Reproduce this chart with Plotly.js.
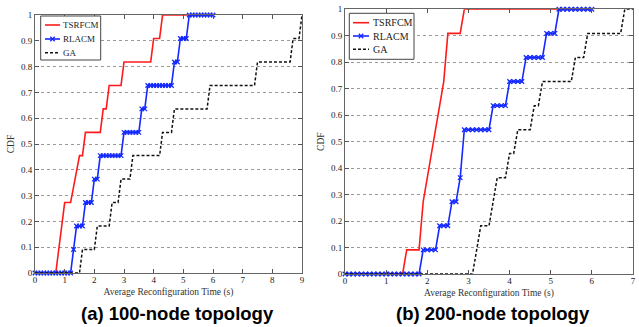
<!DOCTYPE html>
<html>
<head>
<meta charset="utf-8">
<script src="https://cdn.plot.ly/plotly-3.0.1.min.js"></script>
<style>
  html, body { margin: 0; padding: 0; background: #ffffff; }
  #chart { width: 639px; height: 327px; }
</style>
</head>
<body>
<div id="chart"></div>
<script>
// ---------- data ----------
const seriesNames = ["TSRFCM", "RLACM", "GA"];
const panelTitles = ["(a) 100-node topology", "(b) 200-node topology"];
const xAxisTitle = "Average Reconfiguration Time (s)";
const yAxisTitle = "CDF";

// (a) 100-node topology
const a_tsrfcmX = [0, 0.7, 0.9, 1.0, 1.2, 1.5, 1.6, 1.7, 2.2, 2.3, 2.4, 2.5, 2.9, 3.0, 3.9, 4.0, 4.2, 4.3, 6.0];
const a_tsrfcmY = [0, 0, 0.182, 0.273, 0.273, 0.455, 0.455, 0.545, 0.545, 0.636, 0.636, 0.727, 0.727, 0.818, 0.818, 0.909, 0.909, 1, 1];

const rlacmX = [0,0.1,0.2,0.3,0.4,0.5,0.6,0.7,0.8,0.9,1.0,1.1,1.2,1.3,1.4,1.5,1.6,1.7,1.8,1.9,2.0,2.1,2.2,2.3,2.4,2.5,2.6,2.7,2.8,2.9,3.0,3.1,3.2,3.3,3.4,3.5,3.6,3.7,3.8,3.9,4.0,4.1,4.2,4.3,4.4,4.5,4.6,4.7,4.8,4.9,5.0,5.1,5.2,5.3,5.4,5.5,5.6,5.7,5.8,5.9,6.0];
const a_rlacmY = [0,0,0,0,0,0,0,0,0,0,0,0,0,
  0.091,
  0.182,0.182,0.182,
  0.273,0.273,0.273,
  0.364,0.364,
  0.455,0.455,0.455,0.455,0.455,0.455,0.455,0.455,
  0.545,0.545,0.545,0.545,0.545,0.545,
  0.636,0.636,
  0.727,0.727,0.727,0.727,0.727,0.727,0.727,0.727,0.727,
  0.818,0.818,
  0.909,0.909,0.909,
  1,1,1,1,1,1,1,1,1];

const a_gaX = [0, 1.5, 1.6, 2.0, 2.1, 2.5, 2.6, 2.8, 2.9, 3.2, 3.3, 4.2, 4.3, 4.6, 4.7, 5.8, 5.9, 7.4, 7.5, 8.6, 8.7, 8.9, 9.0];
const a_gaY = [0, 0, 0.091, 0.091, 0.182, 0.182, 0.273, 0.273, 0.364, 0.364, 0.455, 0.455, 0.545, 0.545, 0.636, 0.636, 0.727, 0.727, 0.818, 0.818, 0.909, 0.909, 1];

// (b) 200-node topology
const b_tsrfcmX = [0, 1.4, 1.5, 1.8, 1.9, 2.0, 2.1, 2.2, 2.3, 2.4, 2.5, 2.8, 2.9, 6.0];
const b_tsrfcmY = [0, 0, 0.091, 0.091, 0.273, 0.364, 0.455, 0.545, 0.636, 0.727, 0.909, 0.909, 1, 1];

const b_rlacmY = [0,0,0,0,0,0,0,0,0,0,0,0,0,0,0,0,0,0,0,
  0.091,0.091,0.091,0.091,
  0.182,0.182,0.182,
  0.273,0.273,
  0.364,
  0.545,0.545,0.545,0.545,0.545,0.545,0.545,
  0.636,0.636,0.636,0.636,
  0.727,0.727,0.727,0.727,
  0.818,0.818,0.818,0.818,0.818,
  0.909,0.909,0.909,
  1,1,1,1,1,1,1,1,1];

const b_gaX = [0, 3.1, 3.3, 3.5, 3.7, 3.9, 4.0, 4.1, 4.2, 4.5, 4.6, 4.7, 4.8, 5.5, 5.6, 5.8, 5.9, 6.7, 6.8, 7.0];
const b_gaY = [0, 0, 0.182, 0.182, 0.364, 0.364, 0.455, 0.455, 0.545, 0.545, 0.636, 0.636, 0.727, 0.727, 0.818, 0.818, 0.909, 0.909, 1, 1];

const xTicksA = [0,1,2,3,4,5,6,7,8,9];
const xTicksB = [0,1,2,3,4,5,6,7];
const yTicks = [0,0.1,0.2,0.3,0.4,0.5,0.6,0.7,0.8,0.9,1];

// ---------- styles ----------
const RED = "#ff1a1a", BLUE = "#1428ff", BLACK = "#111111";
const COLORS = [RED, BLUE, BLACK];
const DASHES = ["solid", "solid", "3px,2px"];
const SERIF = "Liberation Serif, Times New Roman, serif";

function traces(tx, ty, ry, gx, gy, xa, ya) {
  return [
    { x: tx, y: ty, xaxis: xa, yaxis: ya, name: seriesNames[0], mode: "lines", showlegend: false,
      line: { color: COLORS[0], width: 1.6 } },
    { x: rlacmX, y: ry, xaxis: xa, yaxis: ya, name: seriesNames[1], mode: "lines+markers", showlegend: false,
      cliponaxis: false,
      line: { color: COLORS[1], width: 1.6 },
      marker: { symbol: "x-thin", size: 4.5, color: COLORS[1], line: { color: COLORS[1], width: 1.3 } } },
    { x: gx, y: gy, xaxis: xa, yaxis: ya, name: seriesNames[2], mode: "lines", showlegend: false,
      line: { color: COLORS[2], width: 1.5, dash: DASHES[2] } }
  ];
}

const data = [].concat(
  traces(a_tsrfcmX, a_tsrfcmY, a_rlacmY, a_gaX, a_gaY, "x", "y"),
  traces(b_tsrfcmX, b_tsrfcmY, b_rlacmY, b_gaX, b_gaY, "x2", "y2")
);

const W = 639, H = 327;
const px = v => v / W;           // pixel -> paper x
const py = v => 1 - v / H;       // pixel -> paper y

function axisX(domain, range, ticks, anchor) {
  return {
    anchor: anchor,
    domain: domain, range: range, tickvals: ticks, ticks: "inside", ticklen: 4,
    tickcolor: "#555", showline: true, linecolor: "#666", linewidth: 1, mirror: "ticks",
    showgrid: false, zeroline: false, automargin: false, ticklabelstandoff: -2,
    tickfont: { family: SERIF, size: 9, color: "#222" },
    title: { text: xAxisTitle, font: { family: SERIF, size: 9.5, color: "#333" }, standoff: 4 }
  };
}
function axisY(domain, anchor) {
  return {
    anchor: anchor,
    domain: domain, range: [0, 1], tickvals: yTicks, ticks: "inside", ticklen: 4,
    tickcolor: "#555", showline: true, linecolor: "#666", linewidth: 1, mirror: "ticks",
    showgrid: true, gridcolor: "#9a9a9a", griddash: "dot", gridwidth: 1,
    zeroline: false, automargin: false,
    tickfont: { family: SERIF, size: 9, color: "#222" },
    title: { text: yAxisTitle, font: { family: SERIF, size: 9.5, color: "#333" }, standoff: 4 }
  };
}

// ---------- compact MATLAB-style legends (box, samples, labels) ----------
const shapes = [];
const annotations = [];
function addLegend(box, sx0, sx1, tx, rows, fsize) {
  shapes.push({ type: "rect", xref: "paper", yref: "paper", layer: "above",
    x0: px(box[0]), x1: px(box[2]), y0: py(box[3]), y1: py(box[1]),
    fillcolor: "#ffffff", line: { color: "#444", width: 1 } });
  rows.forEach((ry, i) => {
    shapes.push({ type: "line", xref: "paper", yref: "paper", layer: "above",
      x0: px(sx0), x1: px(sx1), y0: py(ry), y1: py(ry),
      line: { color: COLORS[i], width: 1.6, dash: i === 2 ? "3px,2px" : "solid" } });
    if (i === 1) {
      const cx = (sx0 + sx1) / 2, d = 2.2;
      shapes.push({ type: "path", xref: "paper", yref: "paper", layer: "above",
        path: "M" + px(cx - d) + "," + py(ry - d) + " L" + px(cx + d) + "," + py(ry + d) +
              " M" + px(cx - d) + "," + py(ry + d) + " L" + px(cx + d) + "," + py(ry - d),
        line: { color: COLORS[1], width: 1.3 } });
    }
    annotations.push({ text: seriesNames[i], xref: "paper", yref: "paper",
      x: px(tx), y: py(ry), xanchor: "left", yanchor: "middle", showarrow: false,
      font: { family: SERIF, size: fsize, color: "#222" } });
  });
}
addLegend([40.7, 16, 100.7, 60], 45, 60, 61, [25, 39, 52.7], 9);
addLegend([349.3, 13.3, 414, 59.3], 353, 369, 371, [22.7, 36, 49.3], 10);

annotations.push(
  { text: "<b>" + panelTitles[0] + "</b>", xref: "paper", yref: "paper",
    x: px(177), y: py(313), xanchor: "center", yanchor: "middle", showarrow: false,
    font: { family: "Liberation Sans, Arial, sans-serif", size: 18.5, color: "#000" } },
  { text: "<b>" + panelTitles[1] + "</b>", xref: "paper", yref: "paper",
    x: px(493), y: py(313), xanchor: "center", yanchor: "middle", showarrow: false,
    font: { family: "Liberation Sans, Arial, sans-serif", size: 18.5, color: "#000" } }
);

const layout = {
  width: W, height: H,
  margin: { l: 0, r: 0, t: 0, b: 0 },
  paper_bgcolor: "#ffffff", plot_bgcolor: "#ffffff",
  showlegend: false,
  xaxis: axisX([px(35), px(302)], [0, 9], xTicksA, "y"),
  yaxis: axisY([py(273), py(15)], "x"),
  xaxis2: axisX([px(345), px(633)], [0, 7], xTicksB, "y2"),
  yaxis2: axisY([py(274), py(9.3)], "x2"),
  shapes: shapes,
  annotations: annotations
};

Plotly.newPlot("chart", data, layout, { staticPlot: true, displayModeBar: false });
</script>
</body>
</html>
